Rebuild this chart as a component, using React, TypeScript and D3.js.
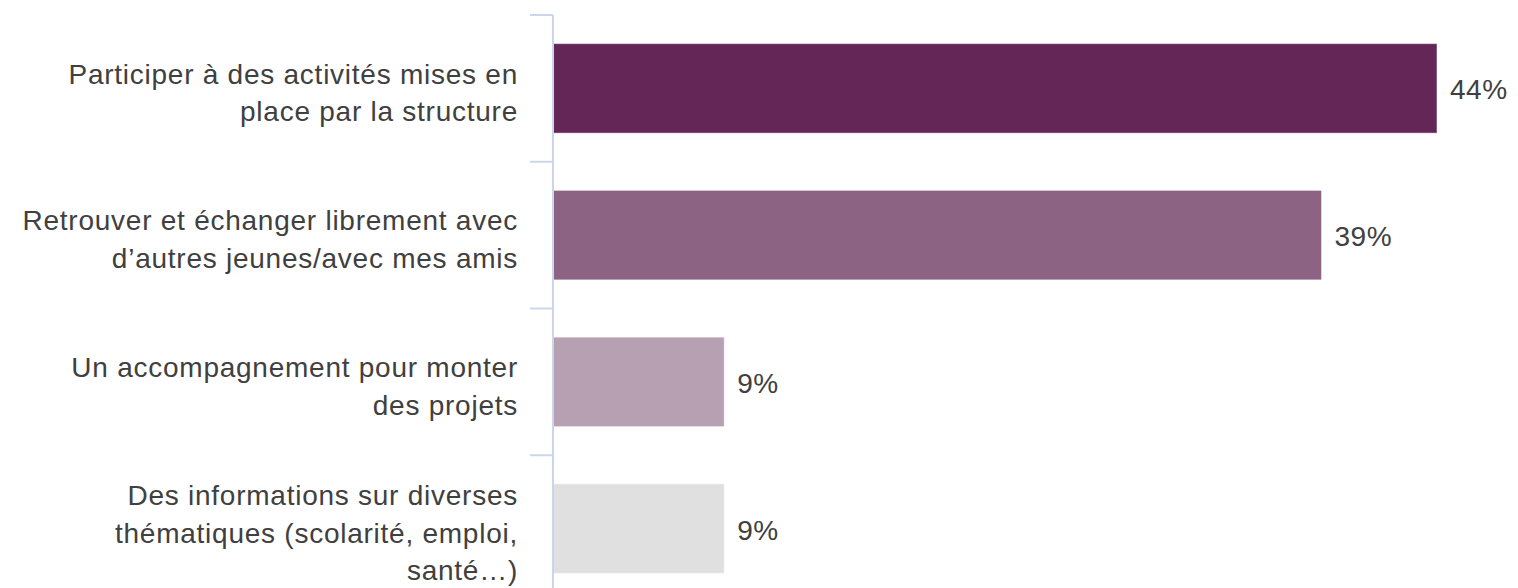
import * as React from 'react'
import { useEffect, useRef } from 'react'
import * as d3 from 'd3'

// Data
const categories = [
  'Participer à des activités mises en\nplace par la structure',
  'Retrouver et échanger librement avec\nd’autres jeunes/avec mes amis',
  'Un accompagnement pour monter\ndes projets',
  'Des informations sur diverses\nthématiques (scolarité, emploi,\nsanté…)',
]
const values = [44.4, 38.6, 8.6, 8.6]
const colors = ['#632657', '#8c6382', '#b7a0b2', '#e0e0e0']

const width = 1518
const height = 588

const App = () => {
  const ref = useRef<SVGSVGElement | null>(null)

  useEffect(() => {
    document.body.style.margin = '0'
    const svg = d3.select(ref.current)
    svg.selectAll('*').remove()

    const axisX = 553
    const x = d3.scaleLinear().domain([0, d3.max(values) as number]).range([axisX, 1437])
    const y = d3.scaleBand<string>().domain(categories).range([15, 602]).paddingInner(0.39).paddingOuter(0.195)

    const font = '"Liberation Sans", Arial, Helvetica, sans-serif'
    const textColor = '#404040'
    const axisColor = '#ccd6eb'
    const fs = 28

    // bars
    svg.append('g')
      .selectAll('rect')
      .data(values)
      .enter()
      .append('rect')
      .attr('x', x(0))
      .attr('y', (d, i) => y(categories[i]) as number)
      .attr('width', d => x(d) - x(0))
      .attr('height', y.bandwidth())
      .attr('fill', (d, i) => colors[i])
      .attr('stroke', '#ffffff')
      .attr('stroke-opacity', 0.5)
      .attr('stroke-width', 1)

    // axis line + ticks at band edges
    const step = y.step()
    const r0 = y.range()[0]
    svg.append('line')
      .attr('x1', axisX).attr('x2', axisX)
      .attr('y1', r0).attr('y2', height + 20)
      .attr('stroke', axisColor).attr('stroke-width', 2)
    svg.append('g')
      .selectAll('line')
      .data(d3.range(categories.length + 1))
      .enter()
      .append('line')
      .attr('x1', axisX - 23).attr('x2', axisX)
      .attr('y1', i => r0 + i * step).attr('y2', i => r0 + i * step)
      .attr('stroke', axisColor).attr('stroke-width', 2)

    // category labels
    const lineH = 37.5
    svg.append('g')
      .selectAll('text')
      .data(categories)
      .enter()
      .append('text')
      .attr('text-anchor', 'end')
      .attr('font-family', font)
      .attr('font-size', fs)
      .attr('letter-spacing', 0.75)
      .attr('fill', textColor)
      .each(function (d) {
        const lines = d.split('\n')
        const cy = (y(d) as number) + y.bandwidth() / 2
        const top = cy - ((lines.length - 1) * lineH) / 2
        const t = d3.select(this)
        lines.forEach((ln, k) => {
          t.append('tspan')
            .attr('x', 518)
            .attr('y', top + k * lineH + 14)
            .text(ln)
        })
      })

    // value labels
    svg.append('g')
      .selectAll('text')
      .data(values)
      .enter()
      .append('text')
      .attr('x', d => x(d) + 13)
      .attr('y', (d, i) => (y(categories[i]) as number) + y.bandwidth() / 2 + 11)
      .attr('font-family', font)
      .attr('font-size', fs)
      .attr('letter-spacing', 0.5)
      .attr('fill', textColor)
      .text(d => `${Math.round(d)}%`)
  }, [])

  return (
    <svg ref={ref} width={width} height={height} style={{ display: 'block', background: '#ffffff' }} />
  )
}

export default App
